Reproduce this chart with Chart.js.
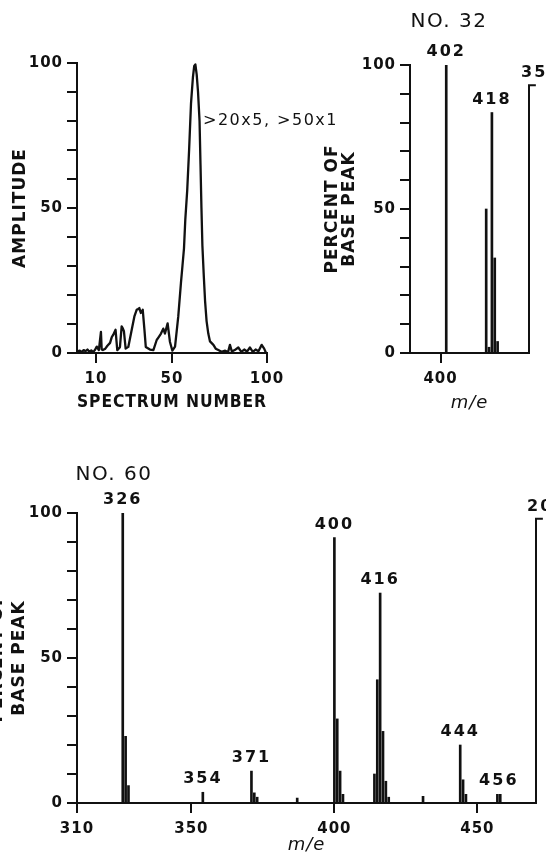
<!DOCTYPE html>
<html>
<head>
<meta charset="utf-8">
<script src="https://cdn.jsdelivr.net/npm/chart.js@4.4.1/dist/chart.umd.min.js"></script>
<style>
  html, body { margin: 0; padding: 0; background: #fff; }
  #page { position: relative; width: 546px; height: 860px; overflow: hidden; background: #fff; }
  canvas { position: absolute; }
</style>
</head>
<body>
<div id="page">
  <canvas id="scan" width="360" height="420" style="left:0;top:0"></canvas>
  <canvas id="no32" width="246" height="420" style="left:300px;top:0"></canvas>
  <canvas id="no60" width="546" height="420" style="left:0;top:440px"></canvas>
</div>
<script>
// total ion scan (top left)
const specNum = [0, 1.5, 2.5, 3.5, 4.5, 5.5, 6.5, 7.5, 8.5, 9.5, 10.4, 11.5, 12.6, 13, 13.6, 14.9, 16, 17.4, 18.3, 19.1,
  20.3, 20.8, 21.2, 22.6, 23.5, 24.1, 24.7, 25.6, 27, 28.8, 30.2, 31.4, 32.2, 32.8, 33.6, 34.6, 35.5, 36.2, 38.4, 40.2,
  41.9, 43, 44.2, 45.4, 46.3, 47, 47.7, 48.9, 50.2, 51.6, 53.3, 54.7, 55.5, 56.3, 57, 58, 59, 60, 61, 61.7,
  62.3, 63, 63.7, 64.5, 65, 65.5, 66, 66.7, 67.4, 68.2, 69.1, 70, 71.8, 73, 74.4, 76, 78, 79.5, 80.5, 81.5,
  83, 84.9, 86.5, 88, 89.5, 91, 92.5, 94, 95.5, 97.2, 98.5, 99.5];
const amplitude = [0.5, 0.8, 0.3, 1.0, 0.6, 1.2, 0.4, 0.9, 0.3, 1.1, 2.2, 1.0, 7.3, 1.2, 1.0, 1.5, 2.5, 3.5, 5.5, 6.3,
  8, 4, 1.0, 2, 9.2, 8.5, 7.5, 1.5, 2.1, 8, 12.6, 14.9, 15.2, 15.5, 13.8, 14.9, 8, 2.1, 1.2, 1,
  4.4, 5.5, 6.7, 8.4, 6.7, 8.5, 10.2, 3.9, 0.8, 2.2, 12.6, 24.1, 30, 36, 46, 56, 70, 86, 95, 99,
  99.5, 96, 90, 80, 65, 50, 37, 27, 18, 11, 6.7, 4, 2.8, 1.5, 1, 0.4, 0.8, 0.3, 2.8, 0.5,
  1.0, 1.9, 0.4, 1.2, 0.5, 1.9, 0.4, 1.2, 0.6, 2.8, 1.5, 0];
const scanTicks = [10, 50, 100];

// spectrum no. 32 (top right)
const mz32 = [402, 416, 417, 418, 419, 420];
const pct32 = [100, 50, 2, 83.5, 33, 4];
const labels32 = [402, 418];
const ticks32 = [400];
const break32 = { mz: 431, pct: 93, text: '35' };

// spectrum no. 60 (bottom)
const mz60 = [326, 327, 328, 354, 371, 372, 373, 387, 400, 401, 402, 403,
  414, 415, 416, 417, 418, 419, 431, 444, 445, 446, 457, 458];
const pct60 = [100, 23, 6, 3.7, 11, 3.5, 2, 1.7, 91.5, 29, 11, 3,
  10, 42.5, 72.4, 24.7, 7.5, 2, 2.3, 20, 8, 3, 3, 3];
const labelMz60 = [326, 354, 371, 400, 416, 444, 457.5];
const labelText60 = ['326', '354', '371', '400', '416', '444', '456'];
const ticks60 = [310, 350, 400, 450];
const break60 = { mz: 470.5, pct: 98, text: '20' };

const pctTicks = [0, 50, 100];

const FAM = '"DejaVu Sans", sans-serif';
const INK = '#111';

function peakTop(mz, pct, m) {
  let best = 0;
  mz.forEach((v, i) => { if (Math.abs(v - m) <= 1) best = Math.max(best, pct[i]); });
  return best;
}

// draws free text: either anchored on data values or relative to the chart area
function textLayer(items) {
  return {
    id: 'textLayer',
    beforeDraw(chart) { chart.ctx.letterSpacing = '1px'; },
    afterDraw(chart) {
      const { ctx, chartArea, scales } = chart;
      items.forEach(it => {
        ctx.save();
        ctx.font = it.font;
        ctx.letterSpacing = it.spacing || '0px';
        ctx.fillStyle = INK;
        ctx.textAlign = it.align || 'center';
        ctx.textBaseline = it.baseline || 'middle';
        let x, y;
        if (it.area) {
          x = chartArea.left + it.dx;
          y = chartArea.top + it.dy;
        } else {
          x = scales.x.getPixelForValue(it.x) + (it.dx || 0);
          y = scales.y.getPixelForValue(it.y) + (it.dy || 0);
        }
        ctx.fillText(it.text, x, y);
        ctx.restore();
      });
    }
  };
}

function yAxis(title, titleFont, titlePad) {
  return {
    min: 0, max: 100,
    afterBuildTicks: s => { s.ticks = [0, 10, 20, 30, 40, 50, 60, 70, 80, 90, 100].map(v => ({ value: v })); },
    ticks: {
      color: INK, padding: 4, autoSkip: false,
      font: { family: FAM, size: 15, weight: 'bold' },
      callback: v => (pctTicks.includes(v) ? String(v) : '')
    },
    grid: { drawOnChartArea: false, drawTicks: true, tickLength: 10, color: INK, lineWidth: 2 },
    border: { display: true, color: INK, width: 2 },
    title: { display: true, text: title, color: INK, font: titleFont, padding: { top: titlePad } }
  };
}

function xAxis(min, max, tickVals, title, titleFont, titlePad) {
  return {
    type: 'linear', min, max, offset: false,
    afterBuildTicks: s => { s.ticks = tickVals.map(v => ({ value: v })); },
    ticks: {
      color: INK, padding: 7, autoSkip: false, maxRotation: 0,
      font: { family: FAM, size: 15, weight: 'bold' },
      callback: v => String(v)
    },
    grid: { drawOnChartArea: false, drawTicks: true, tickLength: 10, color: INK, lineWidth: 2, offset: false },
    border: { display: true, color: INK, width: 2 },
    title: { display: true, text: title, color: INK, font: titleFont, padding: { bottom: titlePad } }
  };
}

const axisTitleFont = { family: FAM, size: 17, weight: 'bold', lineHeight: 1.2 };
const meFont = { family: FAM, size: 18, style: 'italic', weight: 'normal', lineHeight: 1.2 };
const peakFont = 'bold 16px "DejaVu Sans"';
const common = { responsive: false, animation: false, devicePixelRatio: 1, events: [] };

// ---- top left: amplitude vs spectrum number
const scanX = xAxis(0, 100, scanTicks, 'SPECTRUM NUMBER', axisTitleFont, 7);
scanX.afterFit = s => { s.height = 67; };
const scanY = yAxis('AMPLITUDE', axisTitleFont, 10);
scanY.afterFit = s => { s.width = 77; };

new Chart(document.getElementById('scan'), {
  type: 'line',
  data: {
    datasets: [{
      data: specNum.map((x, i) => ({ x, y: amplitude[i] })),
      borderColor: INK, borderWidth: 2.3, pointRadius: 0, tension: 0,
      borderJoinStyle: 'round', fill: false
    }]
  },
  options: Object.assign({}, common, {
    layout: { padding: { left: 0, top: 63, right: 93, bottom: 0 } },
    plugins: { legend: { display: false }, tooltip: { enabled: false } },
    scales: { x: scanX, y: scanY }
  }),
  plugins: [textLayer([
    { text: '>20x5, >50x1', x: 66.3, y: 80, align: 'left', font: '16px "DejaVu Sans"', spacing: '1.5px' }
  ])]
});

// ---- spectrum charts
function spectrum(id, mz, pct, brk, xMin, tickVals, pad, yTitleFont, yPad, mePad, extraText) {
  const x = xAxis(xMin, brk.mz, tickVals, 'm/e', meFont, mePad);
  x.afterFit = s => { s.height = pad.xh; };
  const y = yAxis(['PERCENT OF', 'BASE PEAK'], yTitleFont, yPad);
  y.afterFit = s => { s.width = pad.yw; };
  return new Chart(document.getElementById(id), {
    type: 'bar',
    data: {
      datasets: [
        {
          type: 'bar',
          data: mz.map((m, i) => ({ x: m, y: pct[i] })),
          backgroundColor: INK, borderWidth: 0, barThickness: 2
        },
        {
          // start of the next (expanded) section: drawn from its hook end back to the baseline
          type: 'line',
          data: [{ x: brk.mz + 2.4, y: brk.pct }, { x: brk.mz, y: brk.pct }, { x: brk.mz, y: 0 }],
          borderColor: INK, borderWidth: 2, pointRadius: 0, tension: 0, fill: false, clip: false
        }
      ]
    },
    options: Object.assign({}, common, {
      layout: { padding: { left: 0, top: pad.top, right: pad.right, bottom: 0 } },
      plugins: { legend: { display: false }, tooltip: { enabled: false } },
      scales: { x, y }
    }),
    plugins: [textLayer(extraText)]
  });
}

const yTitle32 = Object.assign({}, axisTitleFont, { lineHeight: 16.5 / 17 });
spectrum('no32', mz32, pct32, break32, 389.3, ticks32,
  { top: 65, right: 17, xh: 67, yw: 110 }, yTitle32, 24.5, 6,
  labels32.map(m => ({ text: String(m), x: m, y: peakTop(mz32, pct32, m), dy: -5, baseline: 'bottom', font: peakFont, spacing: '2px' }))
    .concat([
      { text: break32.text, x: break32.mz, y: break32.pct, dx: -8, dy: -4, align: 'left', baseline: 'bottom', font: peakFont, spacing: '2px' },
      { text: 'NO. 32', area: true, dx: 39, dy: -43, font: '20px "DejaVu Sans"', spacing: '1.5px' }
    ])
);

const yTitle60 = Object.assign({}, axisTitleFont, { lineHeight: 22 / 17 });
spectrum('no60', mz60, pct60, break60, 310, ticks60,
  { top: 73, right: 10, xh: 57, yw: 77 }, yTitle60, -13.5, 4,
  labelMz60.map((m, i) => ({ text: labelText60[i], x: m, y: peakTop(mz60, pct60, m), dy: -5, baseline: 'bottom', font: peakFont, spacing: '2px' }))
    .concat([
      { text: break60.text, x: break60.mz, y: break60.pct, dx: -9, dy: -4, align: 'left', baseline: 'bottom', font: peakFont, spacing: '2px' },
      { text: 'NO. 60', area: true, dx: 37, dy: -38, font: '20px "DejaVu Sans"', spacing: '1.5px' }
    ])
);
</script>
</body>
</html>
